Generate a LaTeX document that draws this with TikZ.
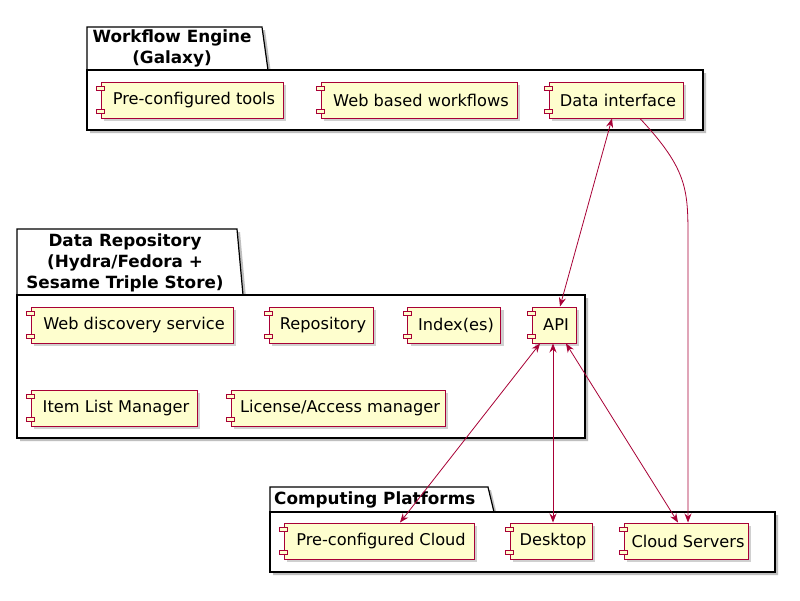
\documentclass[tikz,border=0pt]{standalone}
\usepackage{fontspec}
\setmainfont{DejaVu Sans}
\usetikzlibrary{calc,shadows,arrows.meta}
\definecolor{umlred}{HTML}{A80036}
\definecolor{umlyellow}{HTML}{FEFECE}
\tikzset{
  comp/.style={draw=umlred, fill=umlyellow, line width=1pt, rectangle, inner sep=0pt,
    minimum height=36, font=\fontsize{16.2}{19}\selectfont,
    drop shadow={shadow xshift=3pt, shadow yshift=-3pt, fill=black!30, opacity=0.6}},
  icon/.style={draw=umlred, fill=umlyellow, line width=0.8pt},
  pkg/.style={draw=black, fill=white, line width=1.2pt},
  pkgshadow/.style={fill=black!25},
  ptitle/.style={font=\bfseries\fontsize{16.8}{21}\selectfont, align=center, inner sep=0pt},
  link/.style={draw=umlred, line width=0.8pt},
  tip/.tip={Stealth[length=9pt,width=7pt,inset=3pt]},
}
\begin{document}
\begin{tikzpicture}[x=1pt,y=-1pt]
\useasboundingbox (0,0) rectangle (800,600);
\fill[white] (0,0) rectangle (800,600);

% ---------- package 1 ----------
\fill[pkgshadow] (90,30) -- (265,30) -- (271,73) -- (706,73) -- (706,133) -- (90,133) -- cycle;
\draw[pkg] (87,70) -- (87,27) -- (262,27) -- (268,70);
\draw[pkg] (87,70) rectangle (703,130);
\node[ptitle] (t1) at (172,48.5) {Workflow Engine\\(Galaxy)};

% ---------- package 2 ----------
\fill[pkgshadow] (20,232) -- (240,232) -- (246,298) -- (588,298) -- (588,441) -- (20,441) -- cycle;
\draw[pkg] (17,295) -- (17,229) -- (237,229) -- (243,295);
\draw[pkg] (17,295) rectangle (585,438);
\node[ptitle] (t2) at (125,263) {Data Repository\\(Hydra/Fedora +\\Sesame Triple Store)};

% ---------- package 3 ----------
\fill[pkgshadow] (273,490) -- (491,490) -- (497,515) -- (778,515) -- (778,575) -- (273,575) -- cycle;
\draw[pkg] (270,512) -- (270,487) -- (488,487) -- (494,512);
\draw[pkg] (270,512) rectangle (775,572);
\node[ptitle, anchor=west] (t3) at (274,500) {Computing Platforms};

% ---------- components ----------
\node[comp, minimum width=182] (pct) at (192,100) {\hspace{4pt}Pre-configured tools};
\node[comp, minimum width=196] (wbw) at (419,100) {\hspace{4pt}Web based workflows};
\node[comp, minimum width=134] (di)  at (616,100) {\hspace{4pt}Data interface};

\node[comp, minimum width=202] (wds) at (132,325) {\hspace{4pt}Web discovery service};
\node[comp, minimum width=104] (rep) at (321,325) {\hspace{4pt}Repository};
\node[comp, minimum width=93]  (idx) at (454,325) {\hspace{4pt}Index(es)};
\node[comp, minimum width=44]  (api) at (554,325) {\hspace{4pt}API};
\node[comp, minimum width=166] (ilm) at (114,408) {\hspace{4pt}Item List Manager};
\node[comp, minimum width=214] (lam) at (338,408) {\hspace{4pt}License/Access manager};

\node[comp, minimum width=190] (pcc) at (379,541) {\hspace{4pt}Pre-configured Cloud};
\node[comp, minimum width=82]  (dsk) at (551,541) {\hspace{4pt}Desktop};
\node[comp, minimum width=124] (cls) at (686,541) {\hspace{4pt}Cloud Servers};

\foreach \n in {pct,wbw,di,wds,rep,idx,api,ilm,lam,pcc,dsk,cls}{
  \draw[icon] ($(\n.north west)+(-4,5)$) rectangle ++(8,4);
  \draw[icon] ($(\n.south west)+(-4,-9)$) rectangle ++(8,4);
}

% ---------- connectors ----------
\draw[link, tip-tip] ($(di.south)+(-4,0)$) -- ($(api.north)+(6,0)$);
\draw[link, -tip] ($(di.south)+(24,0)$) .. controls (688,170) and (688,190) .. (688,240) -- ($(cls.north)+(2,0)$);
\draw[link, tip-tip] ($(api.south)+(-14,0)$) -- ($(pcc.north)+(21,0)$);
\draw[link, tip-tip] ($(api.south)+(-1,0)$) -- ($(dsk.north)+(2,0)$);
\draw[link, tip-tip] ($(api.south)+(12,0)$) -- ($(cls.north)+(-8,0)$);
\end{tikzpicture}
\end{document}
